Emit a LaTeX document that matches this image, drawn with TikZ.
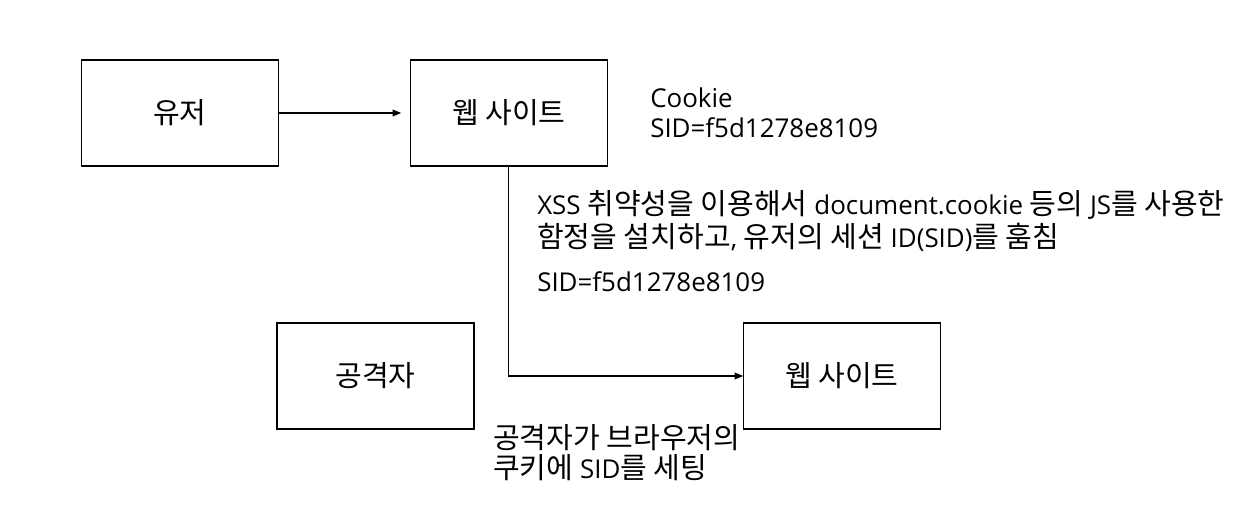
\documentclass[tikz,border=0pt]{standalone}
\usepackage{fontspec}
\setmainfont{Open Sans}[Scale=1.08]
\newfontfamily\kr{Noto Sans CJK KR}[Scale=1.21]
\usetikzlibrary{arrows.meta}
\tikzset{
  box/.style={draw, line width=0.8pt, minimum width=147.75pt, minimum height=79.5pt, inner sep=0pt, outer sep=0pt, font=\fontsize{18}{22.5}\selectfont\kr},
  lbl/.style={anchor=base west, inner sep=0pt, align=left, font=\fontsize{18}{22.5}\selectfont},
  arr/.style={line width=1pt, -{Triangle[length=6.5pt,width=5pt]}}
}
\begin{document}
\begin{tikzpicture}[x=0.75pt,y=-0.75pt]
\useasboundingbox (0,0) rectangle (1256,530);
\fill[white] (0,0) rectangle (1256,530);
\node[box] (user) at (179.75,113) {유저};
\node[box] (web1) at (508.75,113) {웹 사이트};
\node[box] (atk) at (375.5,376) {공격자};
\node[box] (web2) at (841.75,376) {웹 사이트};
\draw[arr, shorten >=6.75pt] (user.east) -- (web1.west);
\draw[arr] (web1.south) |- (web2.west);
\node[lbl] (cookie) at (650,138) {Cookie\\SID=f5d1278e8109};
\node[lbl, font=\fontsize{18}{25}\selectfont] (xss) at (537,248) {XSS {\kr 취약성을 이용해서} document.cookie {\kr 등의} JS{\kr 를 사용한}\\{\kr 함정을 설치하고}, {\kr 유저의 세션} ID(SID){\kr 를 훔침}};
\node[lbl] (sid) at (537,292) {SID=f5d1278e8109};
\node[lbl] (set) at (493,479) {{\kr 공격자가 브라우저의}\\{\kr 쿠키에} SID{\kr 를 세팅}};
\end{tikzpicture}
\end{document}
